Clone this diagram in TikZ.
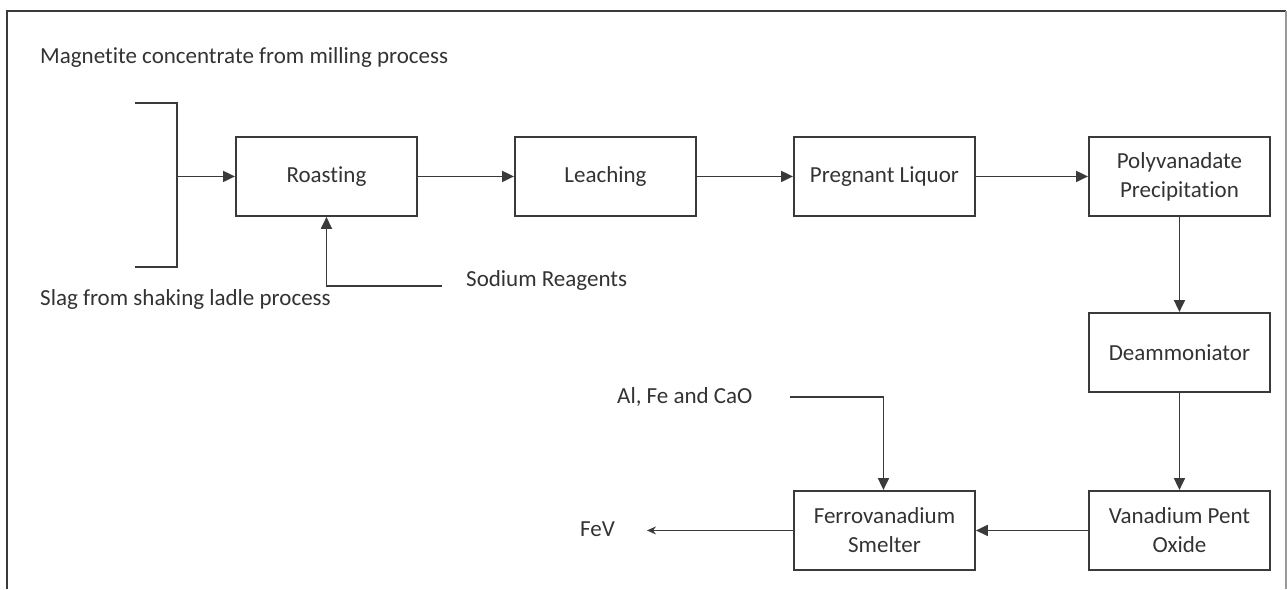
\documentclass[tikz,border=0pt]{standalone}
\usepackage{fontspec}
\setmainfont[Ligatures=NoCommon]{Carlito}
\usetikzlibrary{arrows.meta}
\definecolor{ink}{HTML}{3A3A3A}
\definecolor{txt}{HTML}{333333}
\begin{document}
\begin{tikzpicture}[x=1pt,y=-1pt,
  font=\fontsize{23}{28}\selectfont\color{txt},
  stage/.style={draw=ink,line width=1.9pt,minimum width=181pt,minimum height=79pt,
    inner sep=2pt,align=center,anchor=north west,
    font=\fontsize{23}{29}\selectfont\color{txt}},
  flow/.style={draw=ink,line width=1.9pt,-{Triangle[length=12pt,width=11pt]}},
  feed/.style={draw=ink,line width=1.9pt},
  label/.style={inner sep=0pt}]
  \useasboundingbox (0,0) rectangle (1287,589);
  % frame (open at the bottom)
  \draw[ink,line width=1.8pt] (7,589) -- (7,11) -- (1286,11);
  \draw[black!40,line width=1.4pt] (1286,11) -- (1286,589);

  % process stages
  \node[stage] (roast) at (235,136) {Roasting};
  \node[stage] (leach) at (514,136) {Leaching};
  \node[stage] (liquor) at (793,136) {Pregnant Liquor};
  \node[stage] (poly) at (1088,136) {Polyvanadate\\Precipitation};
  \node[stage] (deam) at (1088,312) {Deammoniator};
  \node[stage] (vpo) at (1088,490) {Vanadium Pent\\Oxide};
  \node[stage] (fev) at (793,490) {Ferrovanadium\\Smelter};

  % feed labels
  \node[label,anchor=west] (mag) at (40,57) {Magnetite concentrate from milling process};
  \node[label,anchor=west] (slag) at (40,299) {Slag from shaking ladle process};
  \node[label,anchor=west] (sod) at (466,280) {Sodium Reagents};
  \node[label,anchor=west] (alfe) at (617,397) {Al, Fe and CaO};
  \node[label,anchor=west] (prod) at (580,529) {FeV};

  % bracket joining the two feeds
  \coordinate (bt) at (135,103);
  \coordinate (bb) at (135,267);
  \coordinate (bj) at (177,175);
  \draw[feed] (bt) -- (177,103) -- (177,267) -- (bb);
  \draw[flow] (bj |- roast.west) -- (roast.west);

  % sodium reagents into roasting
  \coordinate (sodend) at (442,286);
  \draw[flow] (sodend) -| (roast.south);

  % main line
  \draw[flow] (roast.east) -- (leach.west);
  \draw[flow] (leach.east) -- (liquor.west);
  \draw[flow] (liquor.east) -- (poly.west);
  \draw[flow] (poly.south) -- (deam.north);
  \draw[flow] (deam.south) -- (vpo.north);
  \draw[flow] (vpo.west) -- (fev.east);

  % reductants into the smelter
  \coordinate (alend) at (790,397);
  \draw[flow] (alend) -| ([xshift=-1pt]fev.north);

  % product
  \coordinate (fevend) at (647,529);
  \draw[feed,-{Stealth[length=9pt,width=8pt]}] (fev.west) -- (fev.west -| fevend);
\end{tikzpicture}
\end{document}
